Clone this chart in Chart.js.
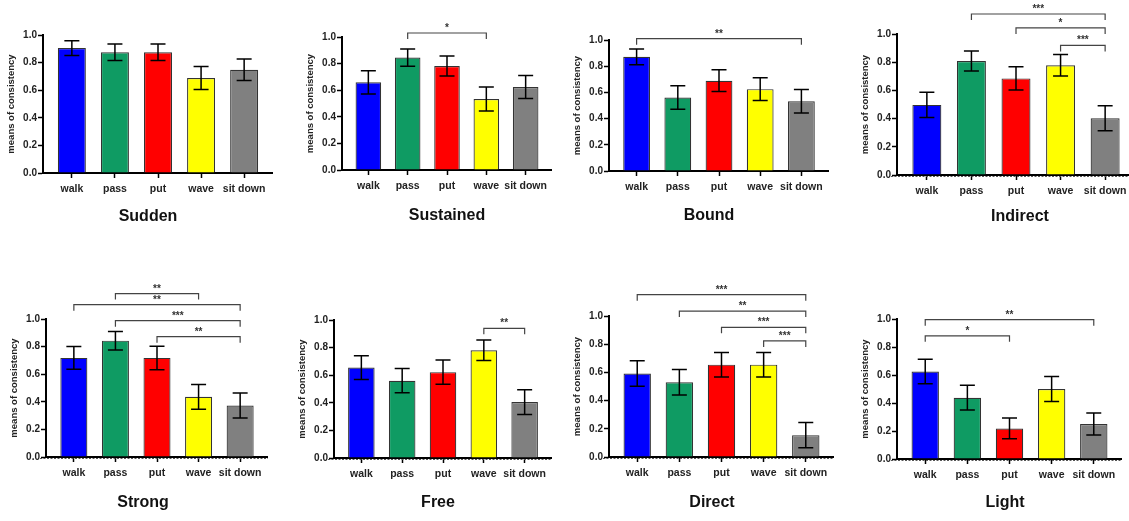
<!DOCTYPE html>
<html>
<head>
<meta charset="utf-8">
<script src="https://cdn.jsdelivr.net/npm/chart.js@4.4.1/dist/chart.umd.min.js"></script>
<style>
  html, body { margin: 0; padding: 0; background: #fff; overflow: hidden; }
  body { width: 1129px; height: 521px; position: relative; }
  canvas.panel { position: absolute; }
</style>
</head>
<body>
<script>
const ACTIONS = ["walk", "pass", "put", "wave", "sit down"];
const BAR_COLORS = ["#0000ff", "#0f9b63", "#ff0000", "#ffff00", "#808080"];

// means of consistency + half length of the error bar
const suddenMean    = [0.905, 0.875, 0.875, 0.688, 0.748];
const suddenErr     = [0.054, 0.060, 0.060, 0.083, 0.078];
const sustainedMean = [0.659, 0.845, 0.782, 0.534, 0.624];
const sustainedErr  = [0.087, 0.065, 0.075, 0.090, 0.087];
const boundMean     = [0.872, 0.561, 0.689, 0.625, 0.533];
const boundErr      = [0.060, 0.090, 0.083, 0.087, 0.090];
const indirectMean  = [0.497, 0.808, 0.685, 0.778, 0.402];
const indirectErr   = [0.090, 0.071, 0.083, 0.076, 0.089];
const strongMean    = [0.718, 0.843, 0.718, 0.436, 0.373];
const strongErr     = [0.082, 0.067, 0.085, 0.090, 0.090];
const freeMean      = [0.655, 0.560, 0.622, 0.781, 0.405];
const freeErr       = [0.086, 0.088, 0.088, 0.074, 0.089];
const directMean    = [0.592, 0.530, 0.655, 0.655, 0.155];
const directErr     = [0.090, 0.090, 0.087, 0.087, 0.089];
const lightMean     = [0.625, 0.438, 0.218, 0.500, 0.250];
const lightErr      = [0.087, 0.088, 0.074, 0.090, 0.078];

// significance brackets: [from, to, level, stars]
const sustainedSig = [[1, 3, 1.03, "*"]];
const boundSig     = [[0, 4, 1.01, "**"]];
const indirectSig  = [[1, 4, 1.142, "***"], [2, 4, 1.043, "*"], [3, 4, 0.919, "***"]];
const strongSig    = [[1, 3, 1.184, "**"], [0, 4, 1.104, "**"], [1, 4, 0.988, "***"], [2, 4, 0.872, "**"]];
const freeSig      = [[3, 4, 0.94, "**"]];
const directSig    = [[0, 4, 1.151, "***"], [1, 4, 1.035, "**"], [2, 4, 0.92, "***"], [3, 4, 0.823, "***"]];
const lightSig     = [[0, 4, 0.995, "**"], [0, 2, 0.88, "*"]];

const PANELS = [
  { title: "Sudden",    mean: suddenMean,    err: suddenErr,    sig: [] },
  { title: "Sustained", mean: sustainedMean, err: sustainedErr, sig: sustainedSig },
  { title: "Bound",     mean: boundMean,     err: boundErr,     sig: boundSig },
  { title: "Indirect",  mean: indirectMean,  err: indirectErr,  sig: indirectSig },
  { title: "Strong",    mean: strongMean,    err: strongErr,    sig: strongSig },
  { title: "Free",      mean: freeMean,      err: freeErr,      sig: freeSig },
  { title: "Direct",    mean: directMean,    err: directErr,    sig: directSig },
  { title: "Light",     mean: lightMean,     err: lightErr,     sig: lightSig }
];

// page positions: axis x, y of 1.0, y of 0.0, end of x axis, title x, title y
const LAYOUT = [
  [43, 35, 173, 273, 148, 217],
  [342, 37, 170, 552, 447, 216],
  [609, 40, 171, 829, 709, 215.5],
  [897, 34, 175, 1135, 1020, 216.5],
  [46, 319, 457, 268, 143, 503],
  [334, 320, 458, 552, 438, 503],
  [609, 316, 457, 834, 712, 503],
  [897, 319, 459, 1122, 1005, 502.5]
];
// panels that show the dotted zero line
const ZERO_LINE = [false, false, false, true, true, true, true, true];

const FONT = '"Liberation Sans", Arial, sans-serif';
const Y_AXIS_W = 40, X_AXIS_H = 24, EDGE = 0.67;

Chart.defaults.font.family = FONT;
Chart.defaults.color = "#222";

// error bars, brackets, zero line and the panel title
function overlayPlugin(p, i, left, top, titleX, titleY) {
  return {
    id: "overlay",
    afterDatasetsDraw(chart) {
      const ctx = chart.ctx, xs = chart.scales.x, ys = chart.scales.y;
      const meta = chart.getDatasetMeta(0);
      ctx.save();

      if (ZERO_LINE[i]) {
        const y0 = ys.getPixelForValue(0) + 1.5;
        ctx.strokeStyle = "#555";
        ctx.lineWidth = 1;
        ctx.setLineDash([2, 1.5]);
        ctx.beginPath();
        ctx.moveTo(chart.chartArea.left - 6, y0);
        ctx.lineTo(chart.chartArea.right, y0);
        ctx.stroke();
        ctx.setLineDash([]);
      }

      ctx.strokeStyle = "#000";
      ctx.lineWidth = 1.5;
      meta.data.forEach((bar, k) => {
        const cx = bar.x;
        const hi = ys.getPixelForValue(p.mean[k] + p.err[k]);
        const lo = ys.getPixelForValue(p.mean[k] - p.err[k]);
        ctx.beginPath();
        ctx.moveTo(cx, hi); ctx.lineTo(cx, lo);
        ctx.moveTo(cx - 7.5, hi); ctx.lineTo(cx + 7.5, hi);
        ctx.moveTo(cx - 7.5, lo); ctx.lineTo(cx + 7.5, lo);
        ctx.stroke();
      });

      ctx.strokeStyle = "#444";
      ctx.lineWidth = 1.2;
      ctx.fillStyle = "#333";
      ctx.font = "bold 10px " + FONT;
      ctx.textAlign = "center";
      ctx.textBaseline = "alphabetic";
      p.sig.forEach(([a, b, level, stars]) => {
        const xa = xs.getPixelForValue(a), xb = xs.getPixelForValue(b);
        const yy = ys.getPixelForValue(level);
        ctx.beginPath();
        ctx.moveTo(xa, yy + 6); ctx.lineTo(xa, yy); ctx.lineTo(xb, yy); ctx.lineTo(xb, yy + 6);
        ctx.stroke();
        ctx.fillText(stars, (xa + xb) / 2, yy - 2);
      });

      ctx.fillStyle = "#111";
      ctx.font = "bold 16px " + FONT;
      ctx.textBaseline = "middle";
      ctx.fillText(p.title, titleX - left, titleY - top);
      ctx.restore();
    }
  };
}

PANELS.forEach((p, i) => {
  const [ax, aTop, aBot, xEnd, tX, tY] = LAYOUT[i];
  const top = i < 4 ? 0 : 268;
  const h = i < 4 ? 235 : 253;
  const left = ax - Y_AXIS_W;

  const canvas = document.createElement("canvas");
  canvas.className = "panel";
  canvas.width = xEnd - left;
  canvas.height = h;
  canvas.style.left = left + "px";
  canvas.style.top = top + "px";
  document.body.appendChild(canvas);

  new Chart(canvas, {
    type: "bar",
    data: {
      datasets: [{
        data: p.mean.map((v, k) => ({ x: k, y: v })),
        backgroundColor: BAR_COLORS,
        borderColor: "#333",
        borderWidth: 1.2,
        barPercentage: 0.65,
        categoryPercentage: 1
      }]
    },
    options: {
      responsive: false,
      animation: false,
      layout: { padding: { top: aTop - top, left: 0, right: 0, bottom: h - (aBot - top) - X_AXIS_H } },
      plugins: { legend: { display: false }, tooltip: { enabled: false } },
      scales: {
        x: {
          type: "linear", offset: false, min: -EDGE, max: ACTIONS.length - 1 + EDGE,
          afterBuildTicks: s => { s.ticks = ACTIONS.map((_, k) => ({ value: k })); },
          afterFit: s => { s.height = X_AXIS_H; },
          ticks: { callback: v => ACTIONS[v], font: { size: 10.5, weight: "bold" }, padding: 5, maxRotation: 0, autoSkip: false },
          grid: { offset: false, drawOnChartArea: false, tickLength: 5, tickWidth: 1.5, tickColor: "#000" },
          border: { color: "#000", width: 2 }
        },
        y: {
          min: 0, max: 1,
          afterFit: s => { s.width = Y_AXIS_W; },
          ticks: { stepSize: 0.2, callback: v => v.toFixed(1), font: { size: 10, weight: "bold" }, padding: 1 },
          grid: { drawOnChartArea: false, tickLength: 5, tickWidth: 1.5, tickColor: "#000" },
          border: { color: "#000", width: 2 },
          title: { display: true, text: "means of consistency", font: { size: 9.5, weight: "bold" }, padding: { top: 3, bottom: 0 } }
        }
      }
    },
    plugins: [overlayPlugin(p, i, left, top, tX, tY)]
  });
});
</script>
</body>
</html>
